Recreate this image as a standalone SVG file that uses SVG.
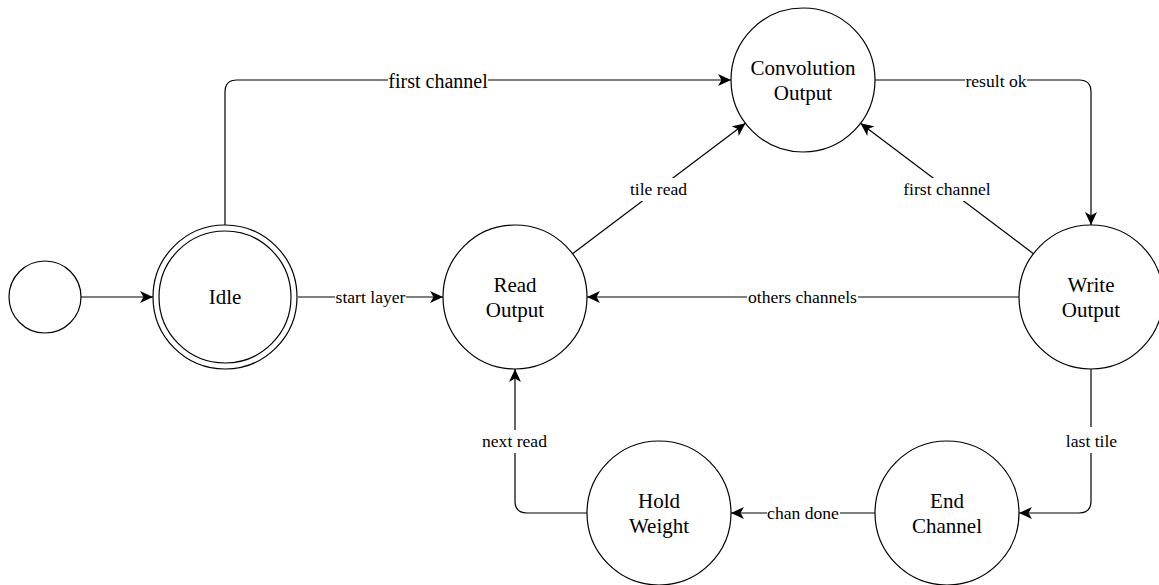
<svg xmlns="http://www.w3.org/2000/svg" width="1159" height="585" viewBox="0 0 1159 585">
  <style>
    .state { fill: #ffffff; stroke: #000000; stroke-width: 1.2; }
    .name { font-family: "Liberation Serif", "Times New Roman", serif; font-size: 21px; fill: #000000; text-anchor: middle; }
    .edge { fill: none; stroke: #000000; stroke-width: 1.2; }
    .arrow { marker-end: url(#head); }
    .lblbg { fill: #ffffff; stroke: none; }
    .lbl { font-family: "Liberation Serif", "Times New Roman", serif; font-size: 17.6px; fill: #000000; text-anchor: middle; }
    .lbl-big { font-size: 20px; }
  </style>
  <defs>
    <marker id="head" markerUnits="userSpaceOnUse" markerWidth="14" markerHeight="12" refX="13" refY="6" orient="auto">
      <path d="M0,0 L13,6 L0,12 L3.5,6 Z" fill="#000000"/>
    </marker>
  </defs>
  <rect width="1159" height="585" fill="#ffffff"/>

  <!-- transitions -->
  <g id="connectors">
    <path class="edge arrow" d="M81,297 L153,297"/>
    <path class="edge arrow" d="M298,297 L443,297"/>
    <path class="edge arrow" d="M225,225 L225,92 Q225,80 237,80 L731,80"/>
    <path class="edge arrow" d="M572.5,253.7 L745.5,123.3"/>
    <path class="edge arrow" d="M875,80 L1079,80 Q1091,80 1091,92 L1091,225"/>
    <path class="edge arrow" d="M1033.5,253.7 L860.5,123.3"/>
    <path class="edge arrow" d="M1019,297 L587,297"/>
    <path class="edge arrow" d="M1091,369 L1091,501 Q1091,513 1079,513 L1019,513"/>
    <path class="edge arrow" d="M875,513 L731,513"/>
    <path class="edge arrow" d="M587,513 L527,513 Q515,513 515,501 L515,369"/>

    <!-- transition labels -->
    <rect class="lblbg" x="335" y="287" width="71" height="20"/>
    <text class="lbl" x="370.5" y="303">start layer</text>
    <rect class="lblbg" x="388" y="70" width="100" height="22"/>
    <text class="lbl lbl-big" x="438" y="87.5">first channel</text>
    <rect class="lblbg" x="629" y="178" width="59" height="23"/>
    <text class="lbl" x="658.5" y="195">tile read</text>
    <rect class="lblbg" x="965" y="70" width="62" height="20"/>
    <text class="lbl" x="996" y="86.5">result ok</text>
    <rect class="lblbg" x="900" y="178" width="94" height="23"/>
    <text class="lbl" x="947" y="195">first channel</text>
    <rect class="lblbg" x="747" y="287" width="111" height="20"/>
    <text class="lbl" x="802.5" y="303">others channels</text>
    <rect class="lblbg" x="1065" y="427" width="53" height="26"/>
    <text class="lbl" x="1091.5" y="447">last tile</text>
    <rect class="lblbg" x="482" y="430" width="66" height="23"/>
    <text class="lbl" x="514.5" y="447">next read</text>
    <rect class="lblbg" x="767" y="503" width="73" height="20"/>
    <text class="lbl" x="803" y="519">chan done</text>
  </g>

  <!-- states -->
  <g id="start">
    <circle class="state" cx="45" cy="297" r="36"/>
  </g>
  <g id="idle">
    <circle class="state" cx="225" cy="297" r="72"/>
    <circle class="state" cx="225" cy="297" r="66"/>
    <text class="name" x="225" y="304">Idle</text>
  </g>
  <g id="read-output">
    <circle class="state" cx="515" cy="297" r="72"/>
    <text class="name" x="515" y="291.5">Read</text>
    <text class="name" x="515" y="317">Output</text>
  </g>
  <g id="convolution-output">
    <circle class="state" cx="803" cy="80" r="72"/>
    <text class="name" x="803" y="74.5">Convolution</text>
    <text class="name" x="803" y="100">Output</text>
  </g>
  <g id="write-output">
    <circle class="state" cx="1091" cy="297" r="72"/>
    <text class="name" x="1091" y="291.5">Write</text>
    <text class="name" x="1091" y="317">Output</text>
  </g>
  <g id="end-channel">
    <circle class="state" cx="947" cy="513" r="72"/>
    <text class="name" x="947" y="507.5">End</text>
    <text class="name" x="947" y="533">Channel</text>
  </g>
  <g id="hold-weight">
    <circle class="state" cx="659" cy="513" r="72"/>
    <text class="name" x="659" y="507.5">Hold</text>
    <text class="name" x="659" y="533">Weight</text>
  </g>
</svg>
